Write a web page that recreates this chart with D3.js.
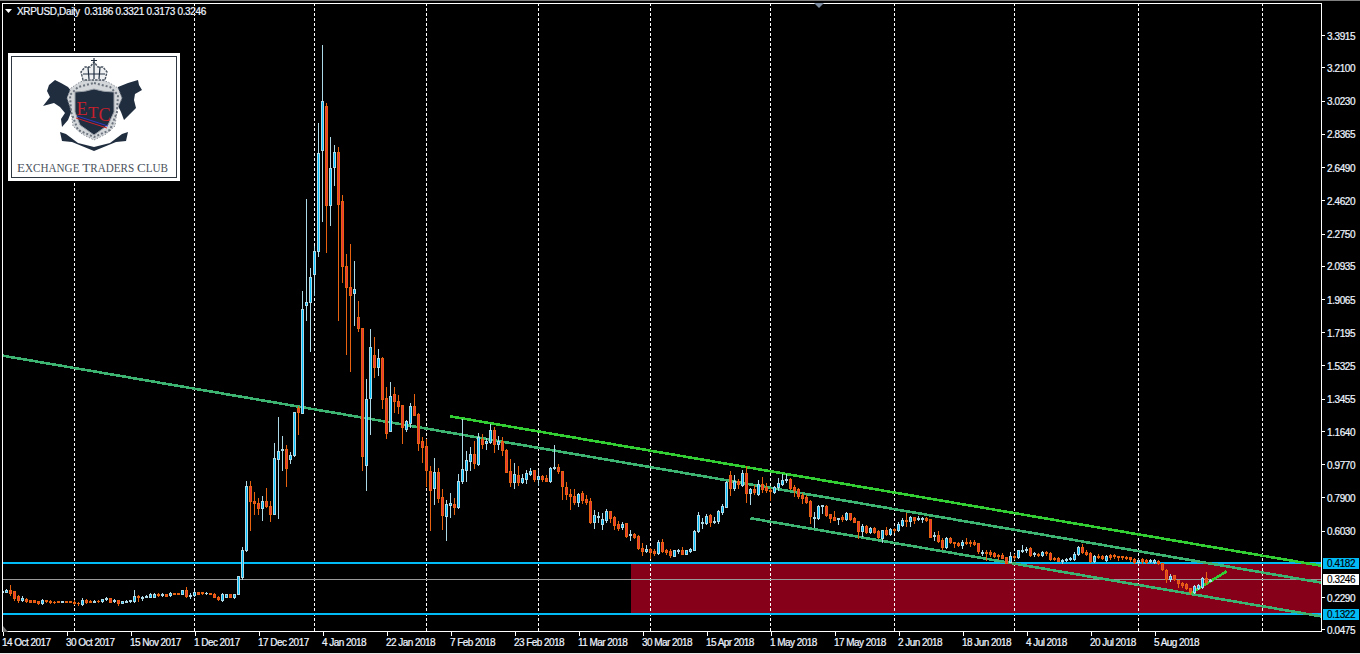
<!DOCTYPE html>
<html><head><meta charset="utf-8"><title>XRPUSD Daily</title>
<style>
html,body{margin:0;padding:0;background:#000;overflow:hidden}
svg{display:block}
text{font-family:"Liberation Sans",Arial,sans-serif}
</style>
<script src="https://cdn.jsdelivr.net/npm/d3@7/dist/d3.min.js"></script>
</head><body><svg id="c" width="1360" height="654"></svg>
<script>
const symbolTitle="XRPUSD,Daily  0.3186 0.3321 0.3173 0.3246";
const opens=[
.256,.259,.270,.261,.236,.210,.218,.210,.210,.204,
.197,.210,.206,.203,.204,.201,.206,.205,.203,.197,
.191,.214,.208,.203,.206,.204,.218,.222,.204,.210,
.197,.203,.206,.204,.236,.225,.231,.229,.231,.248,
.242,.244,.238,.251,.250,.246,.270,.236,.240,.257,
.255,.250,.252,.248,.231,.214,.229,.246,.227,.246,
.342,.496,.856,.770,.760,.728,.770,.742,.698,1.008,
1.055,1.062,1.008,1.026,1.293,1.263,1.871,1.888,2.045,2.175,
2.747,2.995,2.434,2.648,2.735,2.460,2.094,1.974,1.939,1.806,
1.744,.970,1.347,1.593,1.522,1.576,1.351,1.165,1.374,1.334,
1.312,1.177,1.210,1.306,1.261,1.109,1.081,.940,.845,.935,
.794,.687,.749,.754,.738,.879,.946,.997,1.036,.980,
1.120,1.098,1.104,1.171,1.092,1.109,1.059,.940,.878,.918,
.878,.895,.923,.946,.895,.912,.901,.884,.957,.963,
.940,.850,.811,.800,.766,.816,.783,.771,.653,.681,
.642,.665,.715,.681,.642,.625,.647,.580,.586,.574,
.507,.490,.501,.490,.479,.541,.496,.490,.462,.490,
.496,.473,.490,.496,.602,.647,.647,.693,.653,.659,
.709,.738,.918,.845,.884,.861,.929,.816,.839,.811,
.867,.850,.833,.822,.850,.867,.890,.895,.850,.839,
.805,.794,.771,.676,.676,.743,.743,.698,.681,.670,
.681,.670,.704,.676,.659,.602,.630,.597,.619,.602,
.563,.608,.586,.614,.608,.636,.665,.659,.681,.670,
.670,.676,.670,.574,.580,.552,.512,.563,.541,.535,
.524,.541,.541,.541,.535,.479,.484,.484,.479,.467,
.467,.456,.428,.462,.456,.490,.496,.507,.473,.473,
.467,.484,.479,.450,.450,.433,.439,.445,.445,.473,
.512,.484,.479,.433,.462,.462,.439,.467,.467,.462,
.459,.456,.456,.445,.428,.445,.439,.430,.428,.433,
.422,.383,.332,.355,.327,.310,.304,.282,.259,.282,
.287,.338,.3186];
const highs=[
.268,.273,.298,.265,.242,.233,.222,.214,.214,.208,
.220,.214,.210,.206,.206,.206,.208,.206,.210,.201,
.223,.220,.212,.212,.210,.220,.227,.225,.218,.214,
.208,.212,.214,.270,.242,.234,.240,.250,.250,.251,
.253,.248,.255,.253,.253,.270,.283,.253,.262,.259,
.257,.255,.253,.250,.236,.252,.248,.248,.248,.349,
.512,.884,.884,.822,.788,.800,.845,.768,1.098,1.244,
1.137,1.087,1.043,1.271,1.302,1.954,2.472,2.083,2.203,2.898,
3.339,3.010,2.821,2.774,2.764,2.494,2.162,2.218,2.122,1.897,
1.745,1.458,1.740,1.695,1.627,1.582,1.413,1.441,1.413,1.368,
1.312,1.227,1.323,1.374,1.267,1.132,1.120,.968,1.013,.957,
.839,.777,.816,.788,.923,1.233,1.053,1.075,1.109,1.154,
1.149,1.126,1.205,1.188,1.137,1.132,1.064,1.008,.985,.968,
.923,.946,.957,.946,.946,.918,.918,.963,1.087,.980,
.940,.878,.839,.839,.816,.828,.805,.788,.721,.709,
.704,.726,.715,.687,.659,.653,.647,.608,.591,.580,
.535,.524,.507,.501,.552,.557,.501,.501,.496,.501,
.512,.496,.507,.604,.709,.675,.698,.698,.681,.721,
.754,.884,.940,.918,.895,.946,.968,.845,.861,.890,
.906,.873,.845,.856,.901,.923,.923,.901,.861,.845,
.816,.805,.777,.709,.749,.749,.749,.698,.715,.676,
.693,.709,.704,.681,.659,.642,.636,.625,.625,.608,
.608,.625,.619,.619,.653,.676,.704,.687,.681,.687,
.681,.681,.670,.597,.602,.563,.569,.569,.541,.541,
.552,.563,.552,.552,.535,.496,.496,.496,.484,.473,
.479,.456,.484,.473,.496,.524,.512,.512,.484,.479,
.490,.490,.484,.456,.456,.445,.450,.456,.484,.518,
.529,.496,.484,.467,.473,.467,.467,.473,.473,.462,
.462,.459,.456,.450,.445,.450,.445,.445,.445,.439,
.422,.388,.360,.355,.327,.315,.310,.282,.298,.304,
.343,.372,.3321];
const lows=[
.253,.256,.238,.214,.199,.204,.203,.199,.199,.189,
.189,.199,.197,.197,.199,.199,.201,.199,.191,.186,
.186,.197,.201,.199,.201,.201,.214,.199,.201,.186,
.193,.199,.203,.203,.204,.214,.229,.227,.229,.236,
.236,.233,.236,.244,.244,.244,.229,.225,.236,.244,
.248,.248,.246,.227,.214,.204,.227,.227,.225,.244,
.330,.490,.604,.698,.698,.665,.738,.659,.698,.676,
.946,.856,.985,1.020,1.149,1.263,1.790,1.612,1.927,2.151,
2.344,2.169,2.325,2.546,1.790,2.000,1.599,1.499,1.758,1.724,
.946,.833,1.149,1.470,1.481,1.295,1.126,1.165,1.272,1.267,
1.098,1.165,1.188,1.256,1.059,.991,.856,.608,.754,.766,
.614,.552,.681,.698,.732,.873,.884,.946,.957,.974,
1.070,1.064,1.098,1.047,1.064,1.030,.935,.856,.845,.861,
.873,.873,.918,.884,.861,.884,.884,.878,.952,.929,
.783,.783,.726,.754,.743,.760,.754,.647,.619,.653,
.614,.653,.653,.614,.608,.614,.569,.552,.563,.501,
.467,.484,.450,.467,.473,.484,.473,.456,.462,.479,
.473,.473,.484,.494,.597,.619,.642,.631,.647,.647,
.698,.738,.805,.833,.845,.856,.766,.754,.811,.805,
.822,.822,.777,.816,.833,.861,.878,.839,.800,.788,
.760,.760,.647,.625,.670,.704,.687,.653,.665,.642,
.659,.665,.665,.653,.563,.574,.591,.591,.591,.563,
.541,.580,.580,.597,.602,.631,.631,.631,.647,.665,
.653,.659,.569,.552,.541,.501,.507,.535,.512,.518,
.507,.529,.518,.524,.479,.467,.439,.462,.456,.445,
.450,.422,.428,.445,.450,.484,.484,.462,.462,.462,
.462,.467,.439,.439,.433,.422,.433,.439,.439,.467,
.479,.467,.428,.428,.450,.445,.433,.445,.450,.439,
.445,.445,.433,.422,.422,.422,.422,.428,.422,.416,
.383,.315,.321,.327,.287,.287,.276,.248,.253,.276,
.282,.304,.3173];
const closes=[
.265,.270,.251,.224,.210,.222,.207,.201,.202,.195,
.214,.204,.203,.199,.202,.205,.203,.201,.197,.193,
.214,.203,.203,.206,.204,.217,.222,.203,.214,.195,
.204,.208,.212,.233,.229,.229,.235,.246,.248,.238,
.248,.236,.253,.246,.246,.268,.236,.242,.259,.248,
.252,.253,.248,.229,.216,.246,.246,.229,.246,.345,
.496,.856,.768,.756,.728,.770,.739,.698,1.012,1.053,
1.062,.957,1.030,1.271,1.272,1.851,1.890,2.031,2.179,2.731,
3.023,2.434,2.644,2.735,2.440,2.091,1.972,1.927,1.965,1.745,
1.021,1.346,1.637,1.522,1.576,1.346,1.154,1.363,1.334,1.306,
1.188,1.222,1.306,1.256,1.098,1.075,.946,.833,.935,.788,
.693,.754,.760,.738,.884,.952,1.002,1.036,.984,1.132,
1.092,1.109,1.171,1.092,1.109,1.059,.935,.878,.923,.878,
.901,.929,.940,.895,.912,.895,.884,.957,.963,.940,
.856,.811,.800,.766,.811,.777,.766,.653,.693,.687,
.670,.715,.676,.636,.619,.642,.574,.586,.569,.507,
.490,.501,.484,.479,.541,.490,.484,.467,.496,.496,
.473,.496,.501,.602,.693,.653,.687,.653,.659,.715,
.743,.878,.845,.884,.867,.929,.816,.839,.822,.867,
.839,.833,.828,.850,.873,.890,.895,.845,.833,.800,
.788,.766,.687,.681,.743,.749,.693,.676,.665,.676,
.670,.704,.670,.653,.602,.630,.597,.619,.597,.569,
.608,.586,.614,.608,.642,.665,.659,.681,.665,.676,
.676,.665,.569,.580,.546,.512,.563,.541,.535,.524,
.541,.535,.535,.529,.490,.484,.479,.473,.462,.462,
.450,.422,.462,.456,.496,.496,.501,.467,.479,.467,
.484,.479,.445,.445,.433,.439,.445,.450,.473,.512,
.484,.473,.433,.462,.456,.450,.462,.456,.462,.456,
.453,.450,.445,.428,.439,.433,.428,.439,.439,.422,
.388,.332,.349,.332,.310,.298,.282,.259,.293,.298,
.338,.315,.3246];

const priceTicks=[3.3915,3.21,3.023,2.8365,2.649,2.462,2.275,2.0935,1.9065,1.7195,1.5325,1.3455,1.164,.977,.79,.603,.229,.0475];
const dateLabels=["14 Oct 2017","30 Oct 2017","15 Nov 2017","1 Dec 2017","17 Dec 2017","4 Jan 2018","22 Jan 2018","7 Feb 2018","23 Feb 2018","11 Mar 2018","30 Mar 2018","15 Apr 2018","1 May 2018","17 May 2018","2 Jun 2018","18 Jun 2018","4 Jul 2018","20 Jul 2018","5 Aug 2018"];
const labelStep=16;
const monthStartBars=[18,48,78,106,134,162,192,223,253,284,315];
const supportLevel=.4182, floorLevel=.1322, lastPrice=.3246;
const zoneStartBar=157.2;
// trend lines: [bar, price] pairs
const longTrend=[[-0.125,1.588],[329.625,.310]];
const upperChannel=[[111.9,1.246],[329.625,.405]];
const lowerChannel=[[187,.672],[329.625,.120]];
const reboundLine=[[297,.248],[306,.373]];

const svg=d3.select("#c");
const L=2,R=1321,T=3,B=631;
const x=d3.scaleLinear().domain([0,329.625]).range([2.5,1321]);
const y=d3.scaleLinear().domain([.0475,3.3915]).range([629.2,35.2]);
const py=v=>Math.round(y(v));

// window chrome
svg.append("rect").attr("x",0).attr("y",0).attr("width",1360).attr("height",1).attr("fill","#808080");
svg.append("rect").attr("x",0).attr("y",653).attr("width",1360).attr("height",1).attr("fill","#e8e8e8");

const clip=svg.append("defs").append("clipPath").attr("id","plot");
clip.append("rect").attr("x",L).attr("y",T).attr("width",R-L).attr("height",B-T);
const plot=svg.append("g").attr("clip-path","url(#plot)").attr("shape-rendering","crispEdges");

// red zone
plot.append("rect").attr("x",x(zoneStartBar)).attr("y",py(supportLevel)).attr("width",R-x(zoneStartBar))
  .attr("height",py(floorLevel)-py(supportLevel)).attr("fill","#86001a");

// month separators
plot.selectAll("line.grid").data(monthStartBars).join("line").attr("class","grid")
  .attr("x1",d=>Math.floor(x(d))+.5).attr("x2",d=>Math.floor(x(d))+.5)
  .attr("y1",T).attr("y2",B).attr("stroke","#fff").attr("stroke-dasharray","3,2");

// horizontal levels
plot.append("line").attr("x1",L).attr("x2",R).attr("y1",py(lastPrice)-.5).attr("y2",py(lastPrice)-.5).attr("stroke","#9a9a9a");
[supportLevel,floorLevel].forEach(v=>{
  plot.append("line").attr("x1",L).attr("x2",R).attr("y1",py(v)).attr("y2",py(v)).attr("stroke","#00bbf5").attr("stroke-width",2);
});

// trend lines
const trend=d3.line().x(d=>x(d[0])).y(d=>y(d[1]));
[[longTrend,"#3cb371"],[upperChannel,"#32cd32"],[lowerChannel,"#3cb371"],[reboundLine,"#32cd32"]].forEach(([pts,col])=>{
  plot.append("path").attr("d",trend(pts)).attr("fill","none").attr("stroke",col).attr("stroke-width",2.6);
});

// candles
const bars=d3.range(opens.length);
const g=plot.append("g");
const isUp=i=>closes[i]>=opens[i];
const outline=i=>isUp(i)?"#add8e6":"#e8620f";
g.selectAll("rect.wick").data(bars).join("rect").attr("class","wick")
  .attr("x",i=>Math.floor(x(i))).attr("width",1)
  .attr("y",i=>py(highs[i])).attr("height",i=>py(lows[i])-py(highs[i])+1)
  .attr("fill",outline);
const bodyTop=i=>py(Math.max(opens[i],closes[i])), bodyBot=i=>py(Math.min(opens[i],closes[i]));
g.selectAll("rect.body").data(bars).join("rect").attr("class","body")
  .attr("x",i=>Math.floor(x(i))-1).attr("width",3)
  .attr("y",bodyTop).attr("height",i=>bodyBot(i)-bodyTop(i)+1)
  .attr("fill",outline);
g.selectAll("rect.core").data(bars.filter(i=>bodyBot(i)-bodyTop(i)>=2)).join("rect").attr("class","core")
  .attr("x",i=>Math.floor(x(i))).attr("width",1)
  .attr("y",i=>bodyTop(i)+1).attr("height",i=>bodyBot(i)-bodyTop(i)-1)
  .attr("fill",i=>isUp(i)?"#00bfff":"#e8323c");

// frame
svg.append("rect").attr("x",L+.5).attr("y",T+.5).attr("width",R-L).attr("height",B-T)
  .attr("fill","none").attr("stroke","#fff").attr("shape-rendering","crispEdges");

// axes
const labelStroke=t=>t.attr("stroke","#e8f2ff").attr("stroke-width",.22);
const yAxis=d3.axisRight(y).tickValues(priceTicks).tickSize(3).tickPadding(2).tickFormat(d3.format(".4f"));
const yG=svg.append("g").attr("transform",`translate(${R+1},0)`).call(yAxis);
const xAxis=d3.axisBottom(x).tickValues(dateLabels.map((_,k)=>k*labelStep)).tickSize(4).tickPadding(3).tickFormat((_,k)=>dateLabels[k]);
const xG=svg.append("g").attr("transform",`translate(0,${B+.5})`).call(xAxis);
[yG,xG].forEach(a=>{
  a.select(".domain").remove();
  a.selectAll(".tick line").attr("stroke","#fff").attr("shape-rendering","crispEdges");
  a.selectAll("text").attr("fill","#f2f6ff").style("font-size","10px").style("letter-spacing","-0.4px").style("font-family",'"Liberation Sans",Arial,sans-serif').call(labelStroke);
});
xG.selectAll("text").attr("text-anchor","start").attr("dx","-1").style("letter-spacing","-0.55px");
yG.selectAll("text").attr("dy","0.42em");

// price tags
[[supportLevel,"#00bbf5"],[lastPrice,"#ffffff"],[floorLevel,"#00bbf5"]].forEach(([v,col])=>{
  const cy=py(v)-(v===lastPrice?.5:0);
  svg.append("rect").attr("x",1323).attr("y",cy-5.5).attr("width",36).attr("height",11).attr("fill",col).attr("shape-rendering","crispEdges");
  svg.append("text").attr("x",1327).attr("y",cy+3.6).attr("fill","#000").style("font-size","10px").style("letter-spacing","-0.4px").attr("stroke","#000").attr("stroke-width",.15).text(v.toFixed(4));
});

// title
svg.append("path").attr("d","M5,9L12,9L8.5,13Z").attr("fill","#fff");
svg.append("text").attr("x",17).attr("y",15).attr("fill","#f2f6ff").attr("xml:space","preserve").style("white-space","pre").style("font-size","10px").style("letter-spacing","-0.34px").call(labelStroke).text(symbolTitle);
// markers
svg.append("path").attr("d","M814,3L824,3L819,8Z").attr("fill","#7d8ca0");
svg.append("path").attr("d","M3,626L8,632L3,632Z").attr("fill","#777");

// logo
const lg=svg.append("g");
lg.append("rect").attr("x",8).attr("y",53).attr("width",172).attr("height",128).attr("fill","#fff");
lg.append("rect").attr("x",11.5).attr("y",56.5).attr("width",165).attr("height",121).attr("fill","none").attr("stroke","#2d3640");
const navy="#1f2d3f";
lg.append("path").attr("fill",navy).attr("d","M49,85L55,80L61,83L68,87L72,92L72,110L68,120L62,127L61,119L65,113L60,107L54,103L43,106L50,97L47,91Z");
lg.append("path").attr("fill",navy).attr("d","M118,87L128,83L138,80L139,85L142,90L135,94L134,100L136,108L130,114L124,120L121,112L117,104Z");
lg.append("path").attr("fill","#d4d7da").attr("stroke","#8a9098").attr("stroke-dasharray","1.5,1.5").attr("d","M94,78L108,82L118,88L122,98L117,110L115,126L106,134L94,140L82,134L73,126L71,110L67,98L71,88L80,82Z");
lg.append("path").attr("fill","none").attr("stroke","#6c747e").attr("stroke-width",2).attr("stroke-dasharray","2,2").attr("d","M94,83L110,87L118,95L117,112L110,130L94,137L78,130L71,112L70,95L78,87Z");
lg.append("path").attr("fill","#eef0f2").attr("stroke","#4a5460").attr("stroke-width",1.4).attr("stroke-dasharray","2.5,1").attr("d","M83,80L81,72L85,67L90,67L94,62L98,67L103,67L107,72L105,80Z");
lg.append("path").attr("fill","none").attr("stroke",navy).attr("stroke-width",1.2).attr("d","M94,58L94,64M91,60.5L97,60.5M88,67L89,79M94,64L94,79M100,67L99,79M83,74L105,74");
lg.append("path").attr("fill",navy).attr("stroke","#9aa0a8").attr("stroke-width",1).attr("d","M75,92Q85,92 94,89Q103,92 114,92L114,112L108,125L94,135L80,125L75,112Z");
lg.append("path").attr("fill",navy).attr("d","M60,132L66,134L70,137L78,143L94,147L110,143L118,137L122,134L128,132L126,141L116,142L94,151L72,142L62,141Z");
const serif='"Liberation Serif",serif';
[["E",76.5,115,18],["T",88,118,17],["C",98.5,121,18]].forEach(([s,px,pyy,fs])=>{
  lg.append("text").attr("x",px).attr("y",pyy).attr("fill","#c8202c").style("font-family",serif).style("font-size",fs+"px").text(s);
});
lg.append("line").attr("x1",77).attr("y1",116).attr("x2",108).attr("y2",126).attr("stroke","#3434c0");
lg.append("line").attr("x1",76).attr("y1",118).attr("x2",107).attr("y2",128).attr("stroke","#d0202c");
const logoText=lg.append("text").attr("x",17).attr("y",172).attr("fill","#4a525c").attr("textLength",151).attr("lengthAdjust","spacingAndGlyphs").style("font-family",serif).style("font-size","11.5px");
[["E",1],["XCHANGE ",0],["T",1],["RADERS ",0],["C",1],["LUB",0]].forEach(([s,big])=>{
  logoText.append("tspan").style("font-size",big?"13.5px":"11.5px").text(s);
});
</script></body></html>
